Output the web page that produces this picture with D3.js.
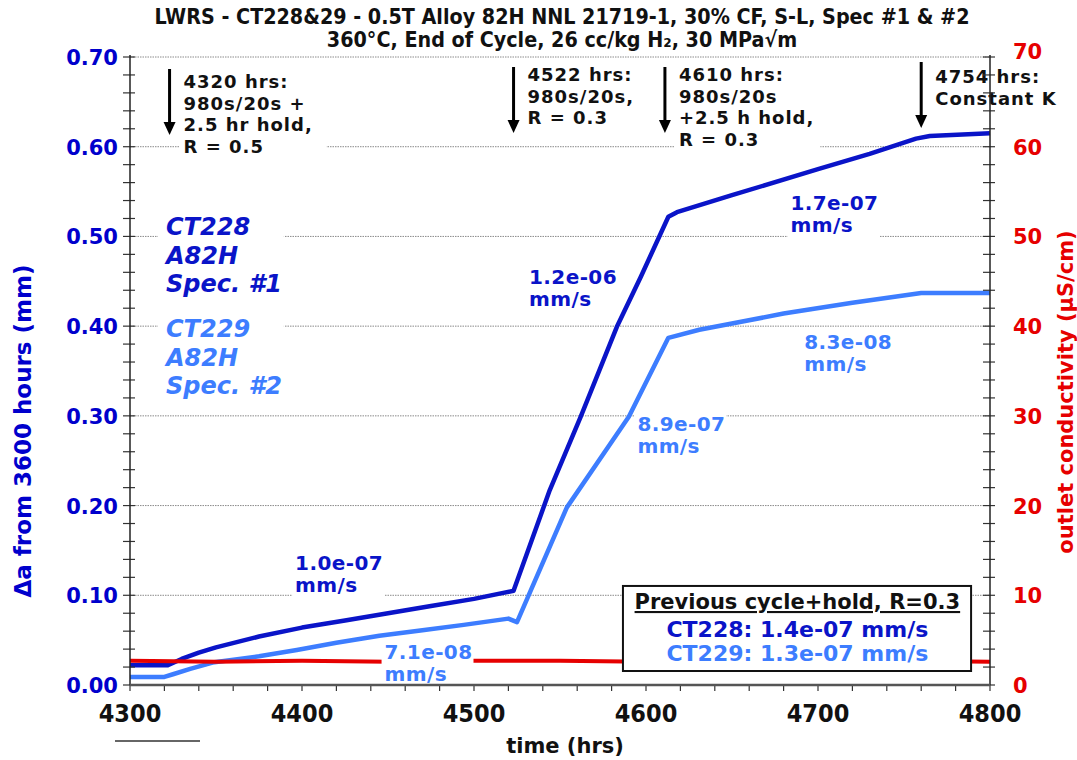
<!DOCTYPE html>
<html><head><meta charset="utf-8">
<script src="https://cdn.jsdelivr.net/npm/d3@7"></script>
<style>
body{margin:0;background:#fff;}
svg{display:block;}
text{font-family:"DejaVu Sans",Verdana,sans-serif;font-weight:bold;}
.cond{font-family:"DejaVu Sans Condensed","DejaVu Sans",sans-serif;font-stretch:condensed;}
</style></head><body>
<svg id="c" width="1077" height="760"></svg>
<script>
// ---------- data ----------
const titleLines = ["LWRS - CT228&29 - 0.5T Alloy 82H NNL 21719-1, 30% CF, S-L, Spec #1 & #2",
                    "360°C, End of Cycle, 26 cc/kg H\u2082, 30 MPa\u221Am"];
const xTicks = [4300,4400,4500,4600,4700,4800];
const yTicks = [0,0.1,0.2,0.3,0.4,0.5,0.6,0.7];
const y2Ticks = [0,10,20,30,40,50,60,70];
// CT228 (Spec #1) crack extension, mm vs hours
const ct228Hours = [4300,4310,4322,4330,4340,4350,4375,4400,4425,4450,4475,4500,4523,4544,4562,4583,4597,4613,4618,4650,4700,4730,4757,4765,4800];
const ct228Da    = [0.022,0.022,0.022,0.029,0.036,0.042,0.054,0.064,0.072,0.080,0.088,0.096,0.105,0.217,0.299,0.399,0.455,0.522,0.527,0.546,0.575,0.592,0.609,0.612,0.615];
// CT229 (Spec #2)
const ct229Hours = [4300,4320,4325,4335,4348,4375,4397,4420,4445,4470,4494,4520,4525,4554,4590,4613,4631,4680,4720,4760,4800];
const ct229Da    = [0.009,0.009,0.012,0.018,0.025,0.032,0.039,0.047,0.055,0.061,0.067,0.074,0.070,0.198,0.299,0.387,0.396,0.414,0.426,0.437,0.437];
// outlet conductivity, µS/cm
const condHours = [4300,4350,4400,4450,4500,4550,4600,4650,4700,4750,4800];
const condVals  = [2.7,2.6,2.7,2.6,2.7,2.7,2.6,2.7,2.7,2.7,2.6];
// event annotations
const eventHours = [4323,4523,4611,4760];
const eventTexts = [["4320 hrs:","980s/20s +","2.5 hr hold,","R = 0.5"],
                    ["4522 hrs:","980s/20s,","R = 0.3"],
                    ["4610 hrs:","980s/20s","+2.5 h hold,","R = 0.3"],
                    ["4754 hrs:","Constant K"]];
// rate labels: [hour, mm, text lines, series]
const rateLabels = [
  [4396,0.128,["1.0e-07","mm/s"],0],
  [4448,0.029,["7.1e-08","mm/s"],1],
  [4532,0.447,["1.2e-06","mm/s"],0],
  [4595,0.283,["8.9e-07","mm/s"],1],
  [4684,0.5295,["1.7e-07","mm/s"],0],
  [4692,0.3746,["8.3e-08","mm/s"],1]];
const legendTitle = "Previous cycle+hold, R=0.3";
const legendRows = ["CT228: 1.4e-07 mm/s","CT229: 1.3e-07 mm/s"];
const specLabels = [["CT228","A82H","Spec. #1"],["CT229","A82H","Spec. #2"]];

// ---------- setup ----------
const dark = "#0a14c8", light = "#3d7dff", red = "#e60000";
const svg = d3.select("#c");
const L=130,R=990,T=57,B=685;
const x = d3.scaleLinear([4300,4800],[L,R]);
const y = d3.scaleLinear([0,0.7],[B,T]);
const y2 = d3.scaleLinear([0,70],[B,T]);

// title
svg.append("g").selectAll("text").data(titleLines).join("text")
  .attr("class","cond").attr("x",562).attr("y",(d,i)=>24+i*23)
  .attr("text-anchor","middle").attr("font-size",21.3).attr("fill","#111").text(d=>d);

// gridlines
svg.append("g").selectAll("line").data(yTicks.slice(1)).join("line")
  .attr("x1",L).attr("x2",R).attr("y1",d=>y(d)).attr("y2",d=>y(d))
  .attr("stroke","#8a8a8a").attr("stroke-width",1).attr("stroke-dasharray","1.5,1");

const lines = svg.append("g");
const maskG = svg.append("g");
const textG = svg.append("g");

// data lines
const lineGen = d3.line().x(d=>x(d[0])).y(d=>y(d[1]));
lines.append("path").datum(d3.zip(ct229Hours,ct229Da)).attr("d",lineGen)
  .attr("fill","none").attr("stroke",light).attr("stroke-width",4.5).attr("stroke-linejoin","round");
lines.append("path").datum(d3.zip(ct228Hours,ct228Da)).attr("d",lineGen)
  .attr("fill","none").attr("stroke",dark).attr("stroke-width",4.5).attr("stroke-linejoin","round");
lines.append("path").datum(d3.zip(condHours,condVals))
  .attr("d",d3.line().x(d=>x(d[0])).y(d=>y2(d[1])))
  .attr("fill","none").attr("stroke",red).attr("stroke-width",4);

function maskBox(g,pad){
  const b=g.node().getBBox();
  maskG.append("rect").attr("x",b.x-pad[0]).attr("y",b.y-pad[1])
   .attr("width",b.width+pad[0]+pad[2]).attr("height",b.height+pad[1]+pad[3]).attr("fill","#fff");
}

// spec labels
const specG = textG.append("g");
specLabels.forEach((lab,k)=>{
  lab.forEach((t,i)=>specG.append("text").attr("x",166).attr("y",235+k*102+i*28.5)
    .attr("font-size",24).attr("font-style","italic").attr("fill",k?light:dark).text(t));
});
maskBox(specG,[6,4,2,4]);

// rate labels
rateLabels.forEach(r=>{
  const g=textG.append("g");
  r[2].forEach((t,i)=>g.append("text").attr("x",x(r[0])).attr("y",y(r[1])+i*22)
     .attr("font-size",20).attr("letter-spacing",0.4).attr("fill",r[3]?light:dark).text(t));
  maskBox(g,[3,1,1,3]);
});

// event annotations
eventHours.forEach((h,k)=>{
  const ax=x(h);
  const ytop = k===3?62:(k===0?69:67), ybot = ytop+66;
  textG.append("line").attr("x1",ax).attr("x2",ax).attr("y1",ytop).attr("y2",ybot-12)
    .attr("stroke","#000").attr("stroke-width",3);
  textG.append("path").attr("d",`M${ax-6},${ybot-13}L${ax+6},${ybot-13}L${ax},${ybot}Z`).attr("fill","#000");
  const g=textG.append("g");
  eventTexts[k].forEach((t,i)=>g.append("text").attr("x",ax+14).attr("y",(k===3?83:(k===0?88:81))+i*21.5)
     .attr("font-size",18).attr("letter-spacing",1).attr("fill","#111").text(t));
  maskBox(g,[4,2,k===0?14:6,3]);
});

// legend box
const lg = textG.append("g");
const lx=x(4688);
lg.append("text").attr("x",lx).attr("y",y(0.0847)).attr("text-anchor","middle").attr("font-size",21)
  .attr("fill","#111").attr("text-decoration","underline").text(legendTitle);
legendRows.forEach((t,i)=>lg.append("text").attr("x",lx).attr("y",y(0.0535)+i*24).attr("text-anchor","middle")
  .attr("font-size",22).attr("fill",i?light:dark).text(t));
maskG.append("rect").attr("x",x(4586.6)).attr("y",y(0.1104)).attr("width",x(4789)-x(4586.6)).attr("height",y(0.0156)-y(0.1104))
  .attr("fill","#fff").attr("stroke","#111").attr("stroke-width",2);

// axes
const axG = svg.append("g");
// left axis
const yMinor = d3.range(0,0.7001,0.02);
axG.append("g").selectAll("line").data(yMinor).join("line")
  .attr("x1",L-7).attr("x2",L+5).attr("y1",d=>y(d)).attr("y2",d=>y(d)).attr("stroke","#333").attr("stroke-width",1.2);
axG.append("line").attr("x1",L).attr("x2",L).attr("y1",T-2).attr("y2",B).attr("stroke","#222").attr("stroke-width",1.5);
axG.append("g").selectAll("text").data(yTicks).join("text")
  .attr("x",118).attr("y",d=>y(d)+8).attr("text-anchor","end").attr("font-size",21).attr("fill","#0000cc")
  .text(d3.format(".2f"));
// right axis
const y2Minor = d3.range(0,70.001,2);
axG.append("g").selectAll("line").data(y2Minor).join("line")
  .attr("x1",R-7).attr("x2",R+5).attr("y1",d=>y2(d)).attr("y2",d=>y2(d)).attr("stroke","#333").attr("stroke-width",1.2);
axG.append("line").attr("x1",R).attr("x2",R).attr("y1",T-2).attr("y2",B).attr("stroke","#222").attr("stroke-width",1.5);
axG.append("g").selectAll("text").data(y2Ticks).join("text")
  .attr("x",1013).attr("y",d=>y2(d)+(d===70?2:8)).attr("font-size",21).attr("fill",red).text(d=>d);
// bottom axis
const xMinor = d3.range(4300,4800.1,20);
axG.append("g").selectAll("line").data(xMinor).join("line")
  .attr("x1",d=>x(d)).attr("x2",d=>x(d)).attr("y1",B).attr("y2",B+6).attr("stroke","#333").attr("stroke-width",1.2);
axG.append("line").attr("x1",L).attr("x2",R).attr("y1",B).attr("y2",B).attr("stroke","#555").attr("stroke-width",2.5);
axG.append("g").selectAll("text").data(xTicks).join("text").attr("class","cond")
  .attr("x",d=>x(d)).attr("y",722).attr("text-anchor","middle").attr("font-size",25).attr("fill","#111").text(d=>d);
axG.append("line").attr("x1",115).attr("x2",200).attr("y1",741).attr("y2",741).attr("stroke","#333").attr("stroke-width",1.5);

// axis titles
svg.append("text").attr("x",565).attr("y",753).attr("text-anchor","middle")
  .attr("font-size",21).attr("fill","#111").text("time (hrs)");
svg.append("text").attr("transform","translate(31,431) rotate(-90)").attr("text-anchor","middle")
  .attr("font-size",23).attr("fill","#0000cc").text("\u0394a from 3600 hours (mm)");
svg.append("text").attr("transform","translate(1073,392) rotate(-90)").attr("text-anchor","middle")
  .attr("font-size",21).attr("fill",red).text("outlet conductivity (\u00B5S/cm)");
</script></body></html>
